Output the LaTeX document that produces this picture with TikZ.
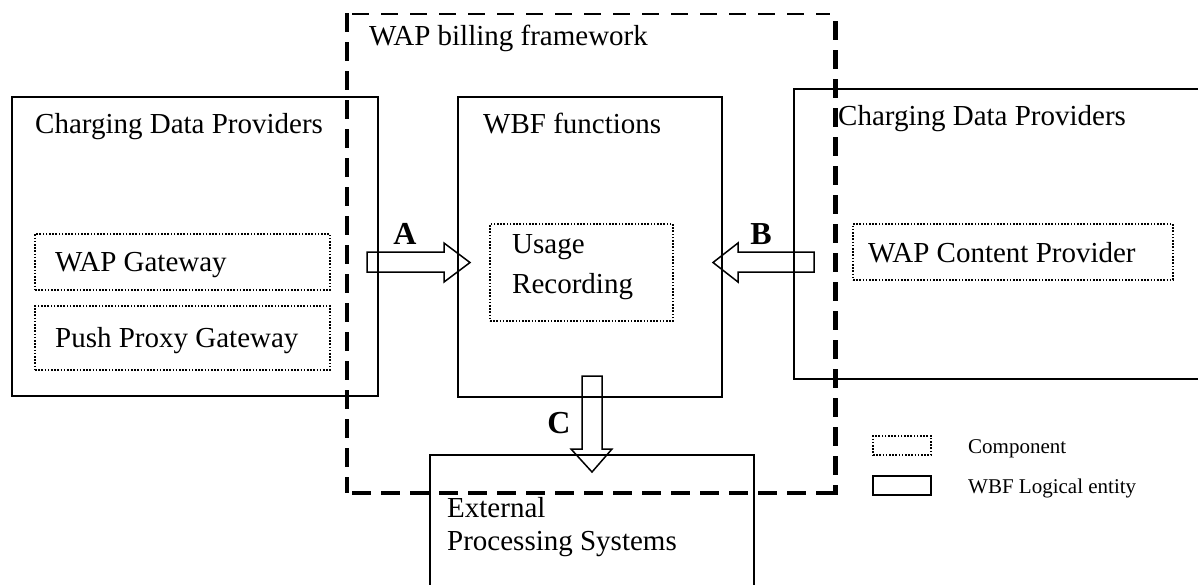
\documentclass[tikz,border=0pt]{standalone}
\usepackage{fontspec}
\setmainfont{Liberation Serif}
\tikzset{
  entity/.style={draw, line width=1.5pt, rectangle, inner sep=0pt},
  component/.style={draw, line width=1.2pt, dash pattern=on 1.6pt off 1.6pt, rectangle, inner sep=0pt},
  boxtext/.style={anchor=base west, inner sep=0pt, font=\fontsize{29}{33}\selectfont},
  legendtext/.style={anchor=base west, inner sep=0pt, font=\fontsize{21}{25}\selectfont},
  ifletter/.style={inner sep=0pt, font=\fontsize{32}{36}\selectfont\bfseries},
  blockarrow/.style={draw, line width=1.5pt, line join=miter}
}
\begin{document}
\begin{tikzpicture}[x=1pt, y=-1pt]
    \clip (0,0) rectangle (1198,584);

    % WAP billing framework (dashed frame)
    \draw[line width=2.5pt, dash pattern=on 17pt off 12pt] (352,14) -- (830,14);
    \draw[line width=4.5pt, dash pattern=on 19pt off 10pt] (347,13) -- (347,493);
    \draw[line width=5pt, dash pattern=on 19pt off 10pt] (835,21) -- (835,495);
    \draw[line width=4pt, dash pattern=on 19pt off 10pt] (352,493) -- (833,493);
    \node[boxtext] (wbfw) at (369,45) {WAP billing framework};

    % Charging data providers (left)
    \node[entity, minimum width=366pt, minimum height=299pt] (cdpL) at (195,246.5) {};
    \node[boxtext] (cdpLtext) at (35,133) {Charging Data Providers};
    \node[component, minimum width=295pt, minimum height=56pt] (wapgw) at (182.5,262) {};
    \node[boxtext] (wapgwtext) at (55,271) {WAP Gateway};
    \node[component, minimum width=295pt, minimum height=64pt] (ppg) at (182.5,338) {};
    \node[boxtext] (ppgtext) at (55,347) {Push Proxy Gateway};

    % WBF functions
    \node[entity, minimum width=264pt, minimum height=300pt] (wbf) at (590,247) {};
    \node[boxtext] (wbftext) at (483,133) {WBF functions};
    \node[component, minimum width=183pt, minimum height=97pt] (usage) at (581.5,272.5) {};
    \node[boxtext] (usagetext) at (512,253) {Usage};
    \node[boxtext] (rectext) at (512,293) {Recording};

    % Charging data providers (right), open to the page edge
    \draw[line width=1.5pt] (1215,89) -- (794,89) -- (794,379) -- (1215,379);
    \node[boxtext] (cdpRtext) at (838,125) {Charging Data Providers};
    \node[component, minimum width=320pt, minimum height=56pt] (wcp) at (1013,252) {};
    \node[boxtext] (wcptext) at (868,262) {WAP Content Provider};

    % External processing systems, open to the page edge
    \draw[line width=1.5pt] (430,600) -- (430,455) -- (754,455) -- (754,600);
    \node[boxtext] (eps1) at (447,517) {External};
    \node[boxtext] (eps2) at (447,550) {Processing Systems};

    % Interfaces A, B, C
    \draw[blockarrow] (367,252) -- (444,252) -- (444,243) -- (470,262.5) -- (444,282) -- (444,272) -- (367,272) -- cycle;
    \node[ifletter] (ifA) at (405,234) {A};
    \draw[blockarrow] (814,252) -- (738,252) -- (738,243) -- (713,262.5) -- (738,282) -- (738,272) -- (814,272) -- cycle;
    \node[ifletter] (ifB) at (761,234) {B};
    \draw[blockarrow] (582,376) -- (602,376) -- (602,449) -- (612,449) -- (592,472) -- (571,449) -- (582,449) -- cycle;
    \node[ifletter] (ifC) at (559,423) {C};

    % Legend
    \node[component, minimum width=58pt, minimum height=19pt] (legcomp) at (902,445.5) {};
    \node[legendtext] (legcomptext) at (968,453) {Component};
    \node[entity, minimum width=58pt, minimum height=19pt] (legent) at (902,485.5) {};
    \node[legendtext] (legenttext) at (968,493) {WBF Logical entity};
\end{tikzpicture}
\end{document}
